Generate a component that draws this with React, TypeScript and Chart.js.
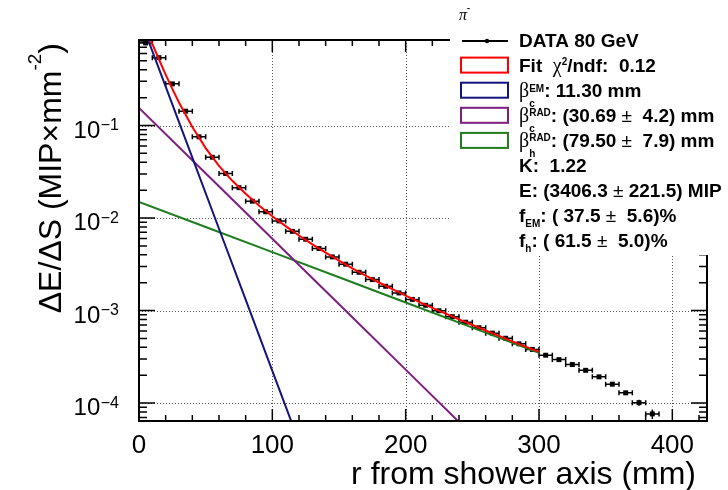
import React, { useEffect, useRef } from "react";
import { Chart, registerables } from "chart.js";

Chart.register(...registerables);

// ---------------- data ----------------
const dataR = [5, 15, 25, 35, 45, 55, 65, 75, 85, 95, 105, 115, 125, 135, 145, 155, 165, 175, 185, 195, 205, 215, 225, 235, 245, 255, 265, 275, 285, 295, 305, 315, 325, 335, 345, 355, 365, 375, 385];
const dataVal = [0.78, 0.541, 0.282, 0.143, 0.0755, 0.0454, 0.0303, 0.0213, 0.0152, 0.0117, 0.0093, 0.00718, 0.0059, 0.00468, 0.0038, 0.00317, 0.00259, 0.00216, 0.00183, 0.00155, 0.00132, 0.00114, 0.000995, 0.000858, 0.000748, 0.000652, 0.00057, 0.000502, 0.000437, 0.00038, 0.000329, 0.000295, 0.000261, 0.000226, 0.000192, 0.00016, 0.000129, 0.000101, 0.0000764];
const dataErr = [0.02, 0.01, 0.005, 0.0025, 0.0013, 0.0008, 0.0005, 0.0004, 0.0003, 0.0002, 0.00016, 0.00013, 0.0001, 0.00008, 0.00007, 0.00006, 0.00005, 0.00004, 0.000035, 0.00003, 0.000025, 0.000022, 0.00002, 0.000018, 0.000016, 0.000014, 0.000013, 0.000012, 0.000011, 0.00001, 0.00001, 0.0000095, 0.000009, 0.0000085, 0.000008, 0.0000075, 0.000007, 0.0000075, 0.000009];
const binHalfWidth = 5;

const fitR = [0, 5, 10, 15, 20, 25, 30, 40, 50, 60, 70, 80, 90, 100, 110, 120, 130, 140, 150, 160, 170, 180, 190, 200, 210, 220, 230, 240, 250, 260, 270, 280, 290, 300];
const fitVal = [1.712, 1.137, 0.762, 0.517, 0.3556, 0.2487, 0.1773, 0.0962, 0.057, 0.0367, 0.02525, 0.01826, 0.01366, 0.01047, 0.00817, 0.00648, 0.0052, 0.00422, 0.00346, 0.00286, 0.00239, 0.00201, 0.0017, 0.00145, 0.00124, 0.00107, 0.000926, 0.000803, 0.000698, 0.000609, 0.000532, 0.000465, 0.000408, 0.000358];

const emR = [0, 20, 40, 60, 80, 100, 120];
const emVal = [1.54, 0.263, 0.0449, 0.00766, 0.00131, 0.000223, 0.000038];

const hadCR = [0, 40, 80, 120, 160, 200, 240, 280];
const hadCVal = [0.155, 0.0422, 0.01146, 0.00311, 0.000845, 0.00023, 0.0000624, 0.0000169];

const hadHR = [0, 50, 100, 150, 200, 250, 300];
const hadHVal = [0.01496, 0.008, 0.00428, 0.00229, 0.00122, 0.000653, 0.000349];

const xTickLabels = [0, 100, 200, 300, 400];
const yDecades = [-4, -3, -2, -1];

const X_MIN = 0;
const X_MAX = 426;
const Y_MIN = 6.4e-5;
const Y_MAX = 0.84;

const FF = '"Liberation Sans", Arial, Helvetica, sans-serif';
const GF = '"Liberation Serif", "DejaVu Serif", serif';

const RED = "#ff0000";
const BLUE = "#14147f";
const PURPLE = "#7e1e80";
const GREEN = "#1e7d1e";

type Part =
  | { t: string; font: string; dy?: number }
  | { sup: string; sub: string; font: string; supDy: number; subDy: number };

function richWidth(ctx: CanvasRenderingContext2D, parts: Part[]) {
  let w = 0;
  for (const p of parts) {
    ctx.font = p.font;
    if ("sup" in p) w += Math.max(ctx.measureText(p.sup).width, ctx.measureText(p.sub).width);
    else w += ctx.measureText(p.t).width;
  }
  return w;
}

function drawRich(ctx: CanvasRenderingContext2D, x: number, y: number, parts: Part[]) {
  let cx = x;
  ctx.textAlign = "left";
  ctx.textBaseline = "alphabetic";
  for (const p of parts) {
    ctx.font = p.font;
    if ("sup" in p) {
      ctx.fillText(p.sup, cx, y + p.supDy);
      ctx.fillText(p.sub, cx, y + p.subDy);
      cx += Math.max(ctx.measureText(p.sup).width, ctx.measureText(p.sub).width);
    } else {
      ctx.fillText(p.t, cx, y + (p.dy || 0));
      cx += ctx.measureText(p.t).width;
    }
  }
  return cx - x;
}

const rootPlugin = {
  id: "rootStyle",
  beforeDatasetsDraw(chart: any) {
    const ctx: CanvasRenderingContext2D = chart.ctx;
    const { left, right, top, bottom } = chart.chartArea;
    const xs = chart.scales.x;
    const ys = chart.scales.y;
    ctx.save();
    // dotted grid
    ctx.strokeStyle = "#555";
    ctx.lineWidth = 1;
    ctx.setLineDash([1, 2]);
    for (const v of xTickLabels) {
      if (v === 0) continue;
      const x = Math.round(xs.getPixelForValue(v)) + 0.5;
      ctx.beginPath();
      ctx.moveTo(x, top);
      ctx.lineTo(x, bottom);
      ctx.stroke();
    }
    for (const e of yDecades) {
      const y = Math.round(ys.getPixelForValue(Math.pow(10, e))) + 0.5;
      ctx.beginPath();
      ctx.moveTo(left, y);
      ctx.lineTo(right, y);
      ctx.stroke();
    }
    ctx.setLineDash([]);
    // error bars
    ctx.beginPath();
    ctx.rect(left, top, right - left, bottom - top);
    ctx.clip();
    ctx.strokeStyle = "#000";
    ctx.lineWidth = 1.5;
    for (let i = 0; i < dataR.length; i++) {
      const y = ys.getPixelForValue(dataVal[i]);
      const x = xs.getPixelForValue(dataR[i]);
      const x1 = xs.getPixelForValue(dataR[i] - binHalfWidth);
      const x2 = xs.getPixelForValue(dataR[i] + binHalfWidth);
      ctx.beginPath();
      ctx.moveTo(x1, y);
      ctx.lineTo(x2, y);
      ctx.moveTo(x1, y - 2.5);
      ctx.lineTo(x1, y + 2.5);
      ctx.moveTo(x2, y - 2.5);
      ctx.lineTo(x2, y + 2.5);
      const yLo = ys.getPixelForValue(Math.max(dataVal[i] - dataErr[i], Y_MIN));
      const yHi = ys.getPixelForValue(dataVal[i] + dataErr[i]);
      ctx.moveTo(x, yLo);
      ctx.lineTo(x, yHi);
      ctx.stroke();
    }
    ctx.restore();
  },
  afterDatasetsDraw(chart: any) {
    const ctx: CanvasRenderingContext2D = chart.ctx;
    const { left, right, top, bottom } = chart.chartArea;
    const xs = chart.scales.x;
    const ys = chart.scales.y;
    ctx.save();
    ctx.strokeStyle = "#000";
    ctx.fillStyle = "#000";
    // frame
    ctx.lineWidth = 2;
    ctx.strokeRect(left, top, right - left, bottom - top);
    // x ticks
    ctx.lineWidth = 1.5;
    ctx.beginPath();
    for (let v = X_MIN; v <= X_MAX; v += 20) {
      const x = xs.getPixelForValue(v);
      const len = v % 100 === 0 ? 12 : 6;
      ctx.moveTo(x, bottom);
      ctx.lineTo(x, bottom - len);
      ctx.moveTo(x, top);
      ctx.lineTo(x, top + len);
    }
    // y ticks
    for (let e = -5; e <= 0; e++) {
      for (let m = 1; m <= 9; m++) {
        const val = m * Math.pow(10, e);
        if (val < Y_MIN || val > Y_MAX) continue;
        const y = ys.getPixelForValue(val);
        const len = m === 1 ? 16 : 8;
        ctx.moveTo(left, y);
        ctx.lineTo(left + len, y);
        ctx.moveTo(right, y);
        ctx.lineTo(right - len, y);
      }
    }
    ctx.stroke();

    // x tick labels
    ctx.font = `26px ${FF}`;
    ctx.textAlign = "center";
    ctx.textBaseline = "alphabetic";
    for (const v of xTickLabels) {
      ctx.fillText(String(v), xs.getPixelForValue(v), 453);
    }
    // y tick labels 10^-n
    for (const e of yDecades) {
      const y = ys.getPixelForValue(Math.pow(10, e));
      ctx.font = `16px ${FF}`;
      ctx.textAlign = "right";
      const sup = "\u2212" + String(-e);
      const sw = ctx.measureText(sup).width;
      ctx.fillText(sup, 119, y + 4.7);
      ctx.font = `24px ${FF}`;
      ctx.fillText("10", 119 - sw - 0.5, y + 12.3);
    }
    // x title
    ctx.font = `32px ${FF}`;
    ctx.textAlign = "right";
    ctx.fillText("r from shower axis (mm)", 696, 484);
    // y title
    const yParts: Part[] = [
      { t: "\u0394E/\u0394S (MIP\u00D7mm", font: `32px ${FF}` },
      { t: "-2", font: `19px ${FF}`, dy: -20 },
      { t: ")", font: `32px ${FF}` },
    ];
    const yw = richWidth(ctx, yParts);
    ctx.save();
    ctx.translate(61, 43);
    ctx.rotate(-Math.PI / 2);
    drawRich(ctx, -yw, 0, yParts);
    ctx.restore();

    // legend box (white, covers frame)
    ctx.fillStyle = "#fff";
    ctx.fillRect(450, 0, 278, 255);
    ctx.fillStyle = "#000";

    // header pi-
    drawRich(ctx, 459, 20, [
      { t: "\u03C0", font: `italic 16px ${GF}` },
      { t: "-", font: `bold 9px ${FF}`, dy: -9 },
    ]);

    const B = `bold 19px ${FF}`;
    const G = `20px ${GF}`;
    const S = `bold 10px ${FF}`;
    const R = `19px ${FF}`;
    const tx = 519;
    const base = (i: number) => 46.5 + 25.1 * i;

    // row 0: data marker
    {
      const y = base(0) - 5.5;
      ctx.strokeStyle = "#000";
      ctx.lineWidth = 2;
      ctx.beginPath();
      ctx.moveTo(462, y);
      ctx.lineTo(508, y);
      ctx.stroke();
      ctx.beginPath();
      ctx.arc(487, y, 2.2, 0, Math.PI * 2);
      ctx.fill();
      drawRich(ctx, tx, base(0), [{ t: "DATA 80 GeV", font: B }]);
    }
    const boxes = [RED, BLUE, PURPLE, GREEN];
    boxes.forEach((c, k) => {
      const yc = base(k + 1) - 6.5;
      ctx.strokeStyle = c;
      ctx.lineWidth = 2;
      ctx.strokeRect(461, yc - 7.5, 47, 15);
    });
    ctx.fillStyle = "#000";
    drawRich(ctx, tx, base(1), [
      { t: "Fit  ", font: B },
      { t: "\u03C7", font: G },
      { t: "2", font: S, dy: -7 },
      { t: "/ndf:  0.12", font: B },
    ]);
    drawRich(ctx, tx, base(2), [
      { t: "\u03B2", font: G },
      { sup: "EM", sub: "c", font: S, supDy: -5, subDy: 10 },
      { t: ": 11.30 mm", font: B },
    ]);
    drawRich(ctx, tx, base(3), [
      { t: "\u03B2", font: G },
      { sup: "RAD", sub: "c", font: S, supDy: -6, subDy: 10 },
      { t: ": (30.69 ", font: B },
      { t: "\u00B1", font: R },
      { t: "  4.2) mm", font: B },
    ]);
    drawRich(ctx, tx, base(4), [
      { t: "\u03B2", font: G },
      { sup: "RAD", sub: "h", font: S, supDy: -6, subDy: 10 },
      { t: ": (79.50 ", font: B },
      { t: "\u00B1", font: R },
      { t: "  7.9) mm", font: B },
    ]);
    drawRich(ctx, tx, base(5), [{ t: "K:  1.22", font: B }]);
    drawRich(ctx, tx, base(6), [
      { t: "E: (3406.3 ", font: B },
      { t: "\u00B1", font: R },
      { t: " 221.5) MIP", font: B },
    ]);
    drawRich(ctx, tx, base(7), [
      { t: "f", font: B },
      { t: "EM", font: S, dy: 5 },
      { t: ": ( 37.5 ", font: B },
      { t: "\u00B1", font: R },
      { t: "  5.6)%", font: B },
    ]);
    drawRich(ctx, tx, base(8), [
      { t: "f", font: B },
      { t: "h", font: S, dy: 5 },
      { t: ": ( 61.5 ", font: B },
      { t: "\u00B1", font: R },
      { t: "  5.0)%", font: B },
    ]);
    ctx.restore();
  },
};

const pts = (xs: number[], ys: number[]) => xs.map((x, i) => ({ x, y: ys[i] }));

export default function App() {
  const ref = useRef<HTMLCanvasElement | null>(null);
  useEffect(() => {
    if (!ref.current) return;
    const lineDs = (label: string, xs: number[], ys: number[], color: string, order: number) => ({
      label,
      data: pts(xs, ys),
      borderColor: color,
      backgroundColor: color,
      borderWidth: 2,
      pointRadius: 0,
      tension: 0,
      clip: 0,
      order,
    });
    const chart = new Chart(ref.current, {
      type: "line",
      data: {
        datasets: [
          {
            label: "DATA 80 GeV",
            data: pts(dataR, dataVal),
            showLine: false,
            pointStyle: "rect",
            pointRadius: 3.5,
            pointBackgroundColor: "#000",
            pointBorderColor: "#000",
            pointBorderWidth: 0,
            clip: 0,
            order: 5,
          },
          lineDs("Fit", fitR, fitVal, RED, 1),
          lineDs("EM", emR, emVal, BLUE, 2),
          lineDs("HAD c", hadCR, hadCVal, PURPLE, 3),
          lineDs("HAD h", hadHR, hadHVal, GREEN, 4),
        ] as any,
      },
      options: {
        animation: false,
        responsive: false,
        devicePixelRatio: 1,
        parsing: false as any,
        layout: { padding: { left: 139, right: 21, top: 40, bottom: 69 } },
        plugins: { legend: { display: false }, tooltip: { enabled: false } },
        events: [],
        scales: {
          x: { type: "linear", min: X_MIN, max: X_MAX, display: false },
          y: { type: "logarithmic", min: Y_MIN, max: Y_MAX, display: false },
        },
      },
      plugins: [rootPlugin],
    });
    return () => chart.destroy();
  }, []);
  return (
    <div style={{ position: "absolute", left: 0, top: 0, width: 728, height: 490, background: "#fff" }}>
      <canvas ref={ref} width={728} height={490} />
    </div>
  );
}
